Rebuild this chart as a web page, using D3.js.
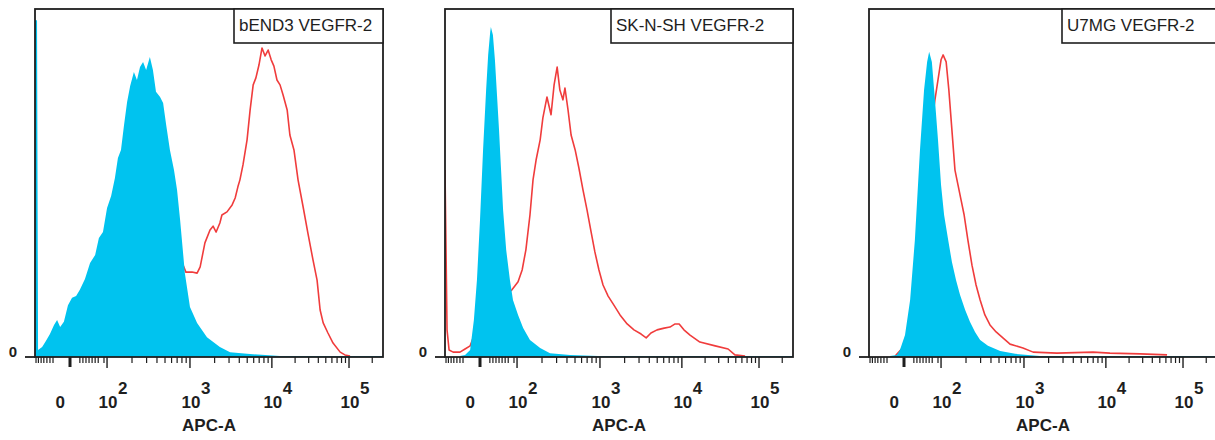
<!DOCTYPE html>
<html>
<head>
<meta charset="utf-8">
<script src="https://cdn.jsdelivr.net/npm/d3@7"></script>
<style>
  body { margin: 0; background: #fff; }
  text { font-family: Arial, "Liberation Sans", sans-serif; }
</style>
</head>
<body>
<script>
"use strict";

// histograms: [channel (0-1024 display), % of full scale]
const titles = ["bEND3 VEGFR-2", "SK-N-SH VEGFR-2", "U7MG VEGFR-2"];

const bend3Blue = [[0,96.8],[6,96.8],[9,2.0],[21,2.9],[32,4.6],[44,6.6],[56,9.2],[65,10.6],[74,8.6],[85,10.1],
  [97,14.9],[109,17.0],[121,17.5],[132,19.3],[147,22.4],[162,27.0],[177,29.3],[188,34.2],[200,35.9],[212,42.8],
  [224,46.3],[235,51.4],[244,57.2],[253,59.5],[262,66.7],[271,73.3],[280,77.9],[291,81.9],[300,79.6],[309,83.3],
  [318,84.8],[327,82.5],[338,86.2],[347,82.5],[356,76.2],[368,74.7],[377,73.0],[386,66.7],[397,59.5],[409,53.7],
  [418,48.0],[427,39.4],[441,24.1],[456,14.4],[477,9.8],[506,5.7],[544,2.9],[574,1.4],[624,0.9],[721,0.3],[1024,0.3]];
const bend3Red = [[380,40],[444,24.4],[462,24.4],[477,24.1],[486,25.9],[500,32.8],[515,36.5],[524,37.6],[533,35.9],
  [544,38.5],[550,40.8],[565,41.7],[580,43.7],[589,45.7],[597,48.9],[603,50.9],[612,55.2],[624,62.4],[633,71.0],
  [642,78.2],[650,80.2],[659,83.9],[668,88.8],[677,86.5],[686,88.2],[695,85.4],[703,83.6],[712,79.6],[721,78.2],
  [730,75.3],[742,71.0],[750,63.8],[762,59.5],[774,50.9],[789,43.1],[803,35.6],[818,27.9],[830,22.1],[839,13.5],
  [848,9.8],[862,6.9],[877,4.0],[898,1.4],[912,0.6],[927,0.3]];

const sknshBlue = [[44,0.3],[59,0.6],[74,2.0],[85,10.6],[94,22.1],[103,39.4],[112,59.5],[121,76.7],[127,86.8],
  [133,93.4],[135,94.8],[141,92.5],[147,85.3],[153,75.3],[159,65.2],[165,53.7],[171,42.2],[180,30.8],[191,22.1],
  [200,16.4],[215,12.1],[230,8.3],[250,4.9],[280,2.6],[309,1.1],[368,0.6],[450,0.3],[1024,0.3]];
const sknshRed = [[0,53.7],[3,30.8],[6,7.8],[12,2.0],[24,1.4],[44,1.4],[59,2.3],[74,3.2],[103,10.6],[162,16.4],
  [197,19.3],[215,21.6],[227,25.0],[238,30.8],[250,40.8],[259,50.9],[268,56.6],[280,62.4],[288,68.7],[300,74.7],
  [312,69.6],[321,78.2],[330,83.3],[338,76.7],[347,73.9],[353,77.3],[362,71.0],[371,63.8],[383,59.5],[394,54.3],
  [406,48.0],[418,42.2],[430,35.9],[441,30.2],[453,25.0],[465,20.7],[480,17.5],[497,14.9],[515,12.1],[536,9.5],
  [556,7.8],[577,6.6],[592,5.5],[606,6.9],[624,7.8],[645,8.3],[662,8.6],[677,9.5],[689,9.5],[703,7.8],[721,6.3],
  [750,4.3],[795,3.2],[833,2.3],[853,0.6],[883,0.3]];

const u7mgBlue = [[62,0.3],[82,0.6],[91,2.0],[106,6.3],[121,16.4],[135,33.6],[150,59.5],[162,76.7],[171,84.8],
  [177,87.7],[185,84.8],[194,73.9],[203,62.4],[212,49.4],[221,40.8],[233,33.6],[244,27.3],[256,22.1],[268,17.8],
  [283,13.5],[297,10.1],[312,7.2],[327,4.9],[350,3.2],[386,1.7],[430,0.9],[503,0.3],[1024,0.3]];
const u7mgRed = [[77,0.3],[106,3.4],[135,16.4],[174,59.5],[194,73.9],[203,79.6],[212,85.4],[218,86.8],[227,84.8],
  [235,76.7],[244,65.2],[253,53.7],[262,49.4],[271,45.1],[280,40.8],[291,33.6],[303,26.4],[315,20.7],[327,16.4],
  [341,12.1],[356,9.2],[374,7.2],[394,5.5],[415,3.7],[453,2.6],[483,1.4],[553,1.1],[659,1.4],[709,1.1],[798,0.9],[877,0.6]];

// axis: channel positions of decades and their labels
const decadeChannels = [212, 456, 697, 924];
const decadeExps = ["2", "3", "4", "5"];
const zeroLabelChannel = 74;
const zeroTickChannel = 103;
const linearMinor = [3, 10, 18, 26, 35, 44, 53, 132, 141, 150, 159, 168, 177, 186, 203];

const blue = "#00c3ef";
const red = "#f03c3c";
const ink = "#1e1e1e";

const plotW = 348, plotTop = 9, plotBottom = 357;
const panels = [
  { title: titles[0], blue: bend3Blue, red: bend3Red, left: 35, boxW: 149 },
  { title: titles[1], blue: sknshBlue, red: sknshRed, left: 445, boxW: 182 },
  { title: titles[2], blue: u7mgBlue, red: u7mgRed, left: 869, boxW: 155 }
];

const svg = d3.select("body").append("svg").attr("width", 1215).attr("height", 440);

// minor ticks of log part
const logMinor = [];
decadeChannels.forEach((c, i) => {
  const step = i < decadeChannels.length - 1 ? decadeChannels[i + 1] - c : c - decadeChannels[i - 1];
  for (let m = 2; m <= 9; m++) {
    const v = c + Math.log10(m) * step;
    if (v <= 1024) logMinor.push(v);
  }
});

panels.forEach((p, i) => {
  const x = d3.scaleLinear().domain([0, 1024]).range([p.left, p.left + plotW]);
  const y = d3.scaleLinear().domain([0, 100]).range([plotBottom, plotTop]);
  const g = svg.append("g");

  g.append("clipPath").attr("id", "clip" + i)
    .append("rect").attr("x", p.left).attr("y", plotTop).attr("width", plotW).attr("height", plotBottom - plotTop);

  const line = d3.line().x(d => x(d[0])).y(d => y(d[1]));
  const area = d3.area().x(d => x(d[0])).y0(y(0)).y1(d => y(d[1]));

  g.append("path").datum(p.red)
    .attr("d", line).attr("fill", "none").attr("stroke", red).attr("stroke-width", 1.6)
    .attr("stroke-linejoin", "round").attr("clip-path", `url(#clip${i})`);
  g.append("path").datum(p.blue)
    .attr("d", area).attr("fill", blue).attr("clip-path", `url(#clip${i})`);

  // frame
  g.append("rect")
    .attr("x", p.left).attr("y", plotTop).attr("width", plotW).attr("height", plotBottom - plotTop)
    .attr("fill", "none").attr("stroke", ink).attr("stroke-width", 1.8);
  // y zero tick
  g.append("line").attr("x1", p.left - 10).attr("x2", p.left).attr("y1", y(0)).attr("y2", y(0))
    .attr("stroke", ink).attr("stroke-width", 1.8);
  g.append("text").attr("x", p.left - 18).attr("y", y(0)).attr("text-anchor", "end")
    .attr("font-size", 15).attr("font-weight", "bold").attr("fill", ink).text("0");

  // x ticks
  const tickG = g.append("g").attr("stroke", ink);
  tickG.selectAll(".minor").data(logMinor.concat(linearMinor)).enter().append("line")
    .attr("x1", d => x(d)).attr("x2", d => x(d)).attr("y1", plotBottom).attr("y2", plotBottom + 6)
    .attr("stroke-width", 1.2);
  tickG.selectAll(".major").data(decadeChannels).enter().append("line")
    .attr("x1", d => x(d)).attr("x2", d => x(d)).attr("y1", plotBottom).attr("y2", plotBottom + 11)
    .attr("stroke-width", 1.4);
  tickG.append("line")
    .attr("x1", x(zeroTickChannel)).attr("x2", x(zeroTickChannel)).attr("y1", plotBottom).attr("y2", plotBottom + 10)
    .attr("stroke-width", 3);

  // x tick labels
  g.append("text").attr("x", x(zeroLabelChannel)).attr("y", 408).attr("text-anchor", "middle")
    .attr("font-size", 17).attr("font-weight", "bold").attr("fill", ink).text("0");
  decadeChannels.forEach((c, k) => {
    g.append("text").attr("x", x(c) + 1).attr("y", 408).attr("text-anchor", "middle")
      .attr("font-size", 17).attr("font-weight", "bold").attr("fill", ink).text("10");
    g.append("text").attr("x", x(c) + 11).attr("y", 394)
      .attr("font-size", 17).attr("font-weight", "bold").attr("fill", ink).text(decadeExps[k]);
  });
  g.append("text").attr("x", p.left + plotW / 2).attr("y", 431).attr("text-anchor", "middle")
    .attr("font-size", 17).attr("font-weight", "bold").attr("fill", ink).text("APC-A");

  // label box
  const boxX = p.left + plotW - p.boxW;
  g.append("rect")
    .attr("x", boxX).attr("y", plotTop).attr("width", p.boxW).attr("height", 34)
    .attr("fill", "#fff").attr("stroke", ink).attr("stroke-width", 1.6);
  g.append("text").attr("x", boxX + 5).attr("y", 31).attr("font-size", 17).attr("fill", ink).text(p.title);
});
</script>
</body>
</html>
